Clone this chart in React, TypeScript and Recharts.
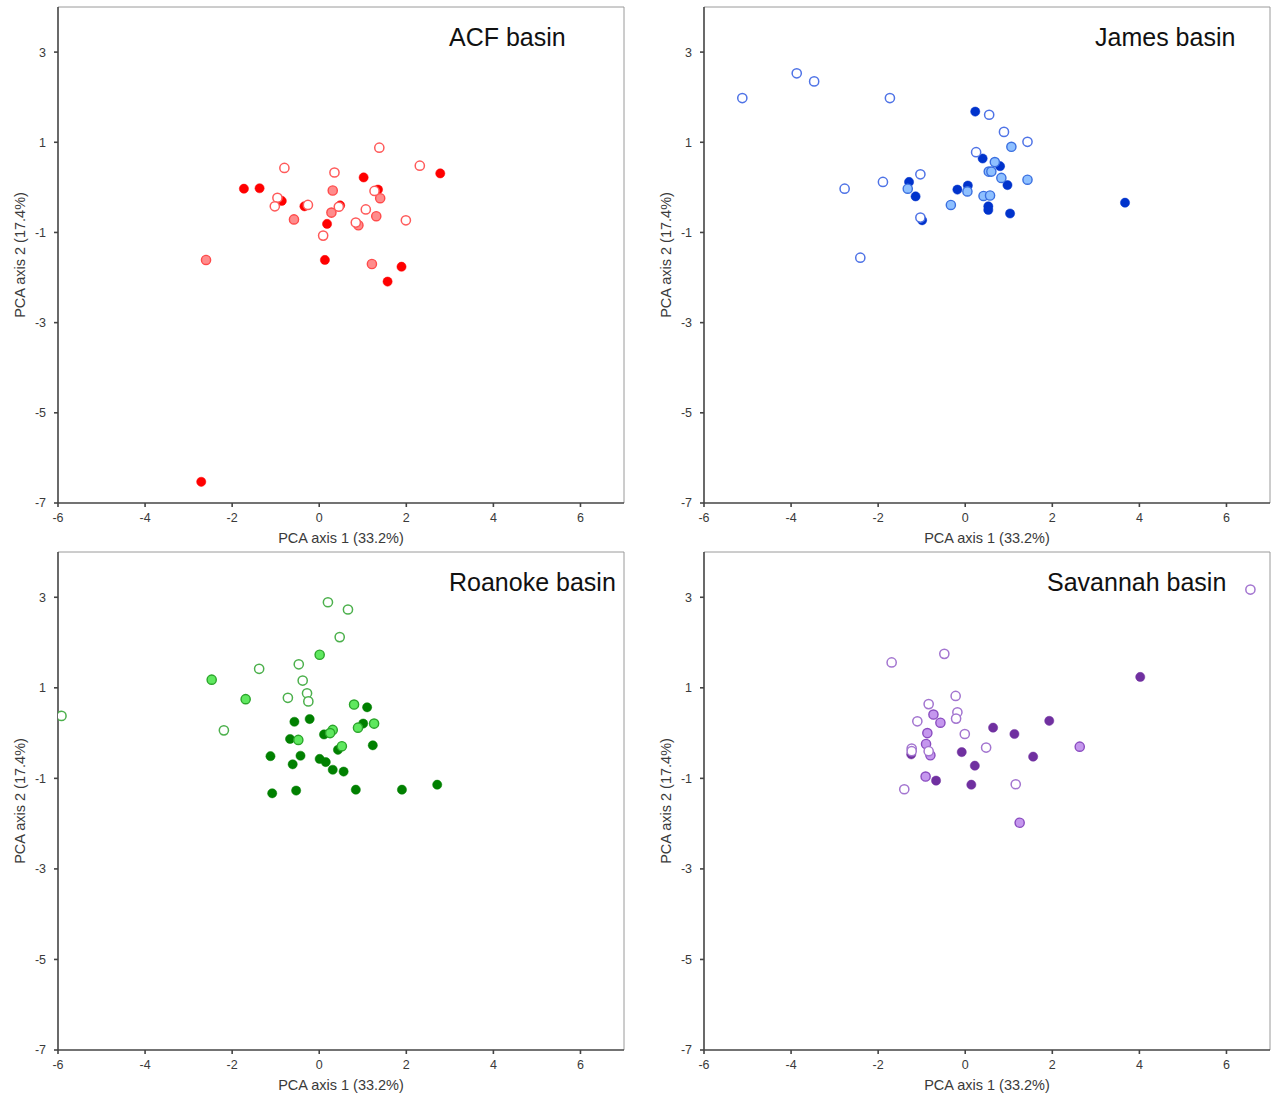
import React from "react";
import {
  ScatterChart,
  Scatter,
  XAxis,
  YAxis,
  ReferenceLine,
} from "recharts";

type Pt = { x: number; y: number };

// Axis ticks shared by all four panels
const xTicks = [-6, -4, -2, 0, 2, 4, 6];
const yTicks = [-7, -5, -3, -1, 1, 3];
const xLabel = "PCA axis 1 (33.2%)";
const yLabel = "PCA axis 2 (17.4%)";

// ACF basin scores
const acfFilled: Pt[] = [
  { x: -1.73, y: -0.03 }, { x: -1.37, y: -0.02 }, { x: 1.02, y: 0.22 },
  { x: 2.78, y: 0.31 }, { x: 1.35, y: -0.05 }, { x: -0.86, y: -0.3 },
  { x: -0.34, y: -0.42 }, { x: 0.48, y: -0.4 }, { x: 0.18, y: -0.81 },
  { x: 0.13, y: -1.61 }, { x: 1.89, y: -1.76 }, { x: 1.57, y: -2.09 },
  { x: -2.71, y: -6.53 },
];
const acfMid: Pt[] = [
  { x: 0.31, y: -0.07 }, { x: 1.4, y: -0.24 }, { x: 0.28, y: -0.56 },
  { x: -0.58, y: -0.71 }, { x: 1.31, y: -0.64 }, { x: 0.9, y: -0.84 },
  { x: -2.6, y: -1.61 }, { x: 1.21, y: -1.7 },
];
const acfOpen: Pt[] = [
  { x: 1.38, y: 0.88 }, { x: -0.8, y: 0.43 }, { x: 0.35, y: 0.33 },
  { x: 2.31, y: 0.48 }, { x: 1.27, y: -0.08 }, { x: -0.96, y: -0.23 },
  { x: -1.02, y: -0.42 }, { x: -0.26, y: -0.39 }, { x: 0.45, y: -0.43 },
  { x: 1.07, y: -0.49 }, { x: 1.99, y: -0.73 }, { x: 0.84, y: -0.78 },
  { x: 0.09, y: -1.07 },
];

// James basin scores
const jamesFilled: Pt[] = [
  { x: 0.23, y: 1.68 }, { x: 0.4, y: 0.64 }, { x: 0.8, y: 0.47 },
  { x: -1.29, y: 0.12 }, { x: 0.97, y: 0.05 }, { x: -0.18, y: -0.05 },
  { x: 0.06, y: 0.04 }, { x: -1.14, y: -0.2 }, { x: 0.53, y: -0.42 },
  { x: 0.53, y: -0.5 }, { x: 1.03, y: -0.58 }, { x: -0.99, y: -0.73 },
  { x: 3.67, y: -0.34 },
];
const jamesMid: Pt[] = [
  { x: 1.06, y: 0.9 }, { x: 0.68, y: 0.56 }, { x: 0.54, y: 0.35 },
  { x: 0.6, y: 0.35 }, { x: 0.83, y: 0.21 }, { x: 1.43, y: 0.17 },
  { x: -1.32, y: -0.03 }, { x: 0.05, y: -0.09 }, { x: 0.42, y: -0.19 },
  { x: 0.57, y: -0.18 }, { x: -0.33, y: -0.39 },
];
const jamesOpen: Pt[] = [
  { x: -5.12, y: 1.98 }, { x: -3.87, y: 2.53 }, { x: -3.47, y: 2.35 },
  { x: -1.73, y: 1.98 }, { x: 0.55, y: 1.61 }, { x: 0.89, y: 1.23 },
  { x: 1.43, y: 1.01 }, { x: 0.25, y: 0.78 }, { x: -1.03, y: 0.29 },
  { x: -1.89, y: 0.12 }, { x: -2.77, y: -0.03 }, { x: -1.03, y: -0.67 },
  { x: -2.41, y: -1.56 },
];

// Roanoke basin scores
const roanokeFilled: Pt[] = [
  { x: 1.1, y: 0.57 }, { x: -0.22, y: 0.31 }, { x: -0.57, y: 0.25 },
  { x: 1.01, y: 0.21 }, { x: 0.11, y: -0.03 }, { x: -0.67, y: -0.13 },
  { x: 1.23, y: -0.27 }, { x: 0.43, y: -0.37 }, { x: -1.12, y: -0.51 },
  { x: -0.43, y: -0.5 }, { x: -0.61, y: -0.69 }, { x: 0.01, y: -0.57 },
  { x: 0.15, y: -0.64 }, { x: 0.31, y: -0.81 }, { x: 0.56, y: -0.85 },
  { x: -1.08, y: -1.33 }, { x: -0.53, y: -1.27 }, { x: 0.84, y: -1.25 },
  { x: 1.9, y: -1.25 }, { x: 2.71, y: -1.14 },
];
const roanokeMid: Pt[] = [
  { x: -2.47, y: 1.18 }, { x: -1.69, y: 0.75 }, { x: 0.01, y: 1.73 },
  { x: 0.8, y: 0.63 }, { x: 1.26, y: 0.21 }, { x: 0.89, y: 0.12 },
  { x: 0.31, y: 0.07 }, { x: 0.25, y: 0.0 }, { x: -0.48, y: -0.15 },
  { x: 0.52, y: -0.29 },
];
const roanokeOpen: Pt[] = [
  { x: -5.92, y: 0.38 }, { x: -1.38, y: 1.42 }, { x: -2.19, y: 0.06 },
  { x: 0.2, y: 2.89 }, { x: 0.66, y: 2.73 }, { x: 0.47, y: 2.12 },
  { x: -0.47, y: 1.52 }, { x: -0.38, y: 1.16 }, { x: -0.28, y: 0.88 },
  { x: -0.25, y: 0.7 }, { x: -0.72, y: 0.78 },
];

// Savannah basin scores
const savannahFilled: Pt[] = [
  { x: 4.02, y: 1.24 }, { x: 1.93, y: 0.27 }, { x: 0.64, y: 0.12 },
  { x: 1.13, y: -0.02 }, { x: -1.24, y: -0.47 }, { x: -0.08, y: -0.42 },
  { x: 1.56, y: -0.52 }, { x: 0.22, y: -0.72 }, { x: -0.67, y: -1.05 },
  { x: 0.14, y: -1.14 },
];
const savannahMid: Pt[] = [
  { x: -0.73, y: 0.41 }, { x: -0.57, y: 0.23 }, { x: -0.87, y: 0.0 },
  { x: -0.9, y: -0.24 }, { x: 2.63, y: -0.3 }, { x: -0.8, y: -0.49 },
  { x: -0.91, y: -0.96 }, { x: 1.25, y: -1.98 },
];
const savannahOpen: Pt[] = [
  { x: -1.69, y: 1.56 }, { x: -0.48, y: 1.75 }, { x: -0.22, y: 0.82 },
  { x: -0.84, y: 0.64 }, { x: -0.18, y: 0.46 }, { x: -0.21, y: 0.32 },
  { x: -1.1, y: 0.26 }, { x: -0.01, y: -0.02 }, { x: 0.48, y: -0.32 },
  { x: -1.23, y: -0.34 }, { x: -1.23, y: -0.4 }, { x: -0.84, y: -0.4 },
  { x: 1.16, y: -1.13 }, { x: -1.4, y: -1.24 }, { x: 6.55, y: 3.17 },
];

const FONT = "'Liberation Sans', Arial, sans-serif";

type Palette = {
  filled: string;
  midFill: string;
  midStroke: string;
  openStroke: string;
};

const dot = (fill: string, stroke: string, sw: number) => (props: any) => (
  <circle
    cx={props.cx}
    cy={props.cy}
    r={4.6}
    fill={fill}
    stroke={stroke}
    strokeWidth={sw}
  />
);

type PanelProps = {
  title: string;
  titleX: number;
  left: number;
  top: number;
  width: number;
  height: number;
  margin: { top: number; right: number; bottom: number; left: number };
  filled: Pt[];
  mid: Pt[];
  open: Pt[];
  palette: Palette;
};

function Panel(p: PanelProps) {
  const axisColor = "#444";
  const tickStyle = { fontSize: 12.5, fill: "#3a3a3a", fontFamily: FONT };
  return (
    <div style={{ position: "absolute", left: p.left, top: p.top }}>
      <ScatterChart width={p.width} height={p.height} margin={p.margin}>
        <XAxis
          type="number"
          dataKey="x"
          domain={[-6, 7]}
          ticks={xTicks}
          allowDataOverflow
          height={45}
          stroke={axisColor}
          strokeWidth={1.6}
          tick={tickStyle}
          tickSize={4}
          tickMargin={6}
          label={{
            value: xLabel,
            position: "insideBottom",
            offset: 5,
            style: { fontSize: 14.5, fill: "#3a3a3a", fontFamily: FONT },
          }}
        />
        <YAxis
          type="number"
          dataKey="y"
          domain={[-7, 4]}
          ticks={yTicks}
          allowDataOverflow
          width={58}
          stroke={axisColor}
          strokeWidth={1.6}
          tick={tickStyle}
          tickSize={4}
          tickMargin={8}
          label={{
            value: yLabel,
            angle: -90,
            position: "insideLeft",
            offset: 20,
            style: {
              fontSize: 14.5,
              fill: "#3a3a3a",
              fontFamily: FONT,
              textAnchor: "middle",
            },
          }}
        />
        <ReferenceLine y={4} stroke="#9a9a9a" strokeWidth={1} />
        <ReferenceLine x={7} stroke="#9a9a9a" strokeWidth={1} />
        <Scatter
          data={p.filled}
          isAnimationActive={false}
          shape={dot(p.palette.filled, p.palette.filled, 0.5)}
        />
        <Scatter
          data={p.mid}
          isAnimationActive={false}
          shape={dot(p.palette.midFill, p.palette.midStroke, 1.4)}
        />
        <Scatter
          data={p.open}
          isAnimationActive={false}
          shape={dot("#ffffff", p.palette.openStroke, 1.5)}
        />
      </ScatterChart>
      <div
        style={{
          position: "absolute",
          left: p.titleX,
          top: p.margin.top + 18,
          fontSize: 25,
          lineHeight: "25px",
          fontFamily: FONT,
          color: "#111",
          whiteSpace: "nowrap",
        }}
      >
        {p.title}
      </div>
    </div>
  );
}

const acfPalette: Palette = {
  filled: "#ff0000",
  midFill: "#ff8c8c",
  midStroke: "#ff4a4a",
  openStroke: "#ff5a5a",
};
const jamesPalette: Palette = {
  filled: "#0033cc",
  midFill: "#8ec0ff",
  midStroke: "#3a6fe0",
  openStroke: "#4f73e6",
};
const roanokePalette: Palette = {
  filled: "#008000",
  midFill: "#5fe85f",
  midStroke: "#2aa52a",
  openStroke: "#4cb04c",
};
const savannahPalette: Palette = {
  filled: "#7030a0",
  midFill: "#c597ee",
  midStroke: "#8a4cc0",
  openStroke: "#a375d0",
};

export default function App() {
  return (
    <div
      style={{
        position: "absolute",
        left: 0,
        top: 0,
        width: 1273,
        height: 1099,
        background: "#fff",
        fontFamily: FONT,
      }}
    >
      <Panel
        title="ACF basin"
        titleX={449}
        left={0}
        top={0}
        width={636}
        height={548}
        margin={{ top: 7, right: 12, bottom: 0, left: 0 }}
        filled={acfFilled}
        mid={acfMid}
        open={acfOpen}
        palette={acfPalette}
      />
      <Panel
        title="James basin"
        titleX={449}
        left={646}
        top={0}
        width={627}
        height={548}
        margin={{ top: 7, right: 3, bottom: 0, left: 0 }}
        filled={jamesFilled}
        mid={jamesMid}
        open={jamesOpen}
        palette={jamesPalette}
      />
      <Panel
        title="Roanoke basin"
        titleX={449}
        left={0}
        top={546}
        width={636}
        height={549}
        margin={{ top: 6, right: 12, bottom: 0, left: 0 }}
        filled={roanokeFilled}
        mid={roanokeMid}
        open={roanokeOpen}
        palette={roanokePalette}
      />
      <Panel
        title="Savannah basin"
        titleX={401}
        left={646}
        top={546}
        width={627}
        height={549}
        margin={{ top: 6, right: 3, bottom: 0, left: 0 }}
        filled={savannahFilled}
        mid={savannahMid}
        open={savannahOpen}
        palette={savannahPalette}
      />
    </div>
  );
}
